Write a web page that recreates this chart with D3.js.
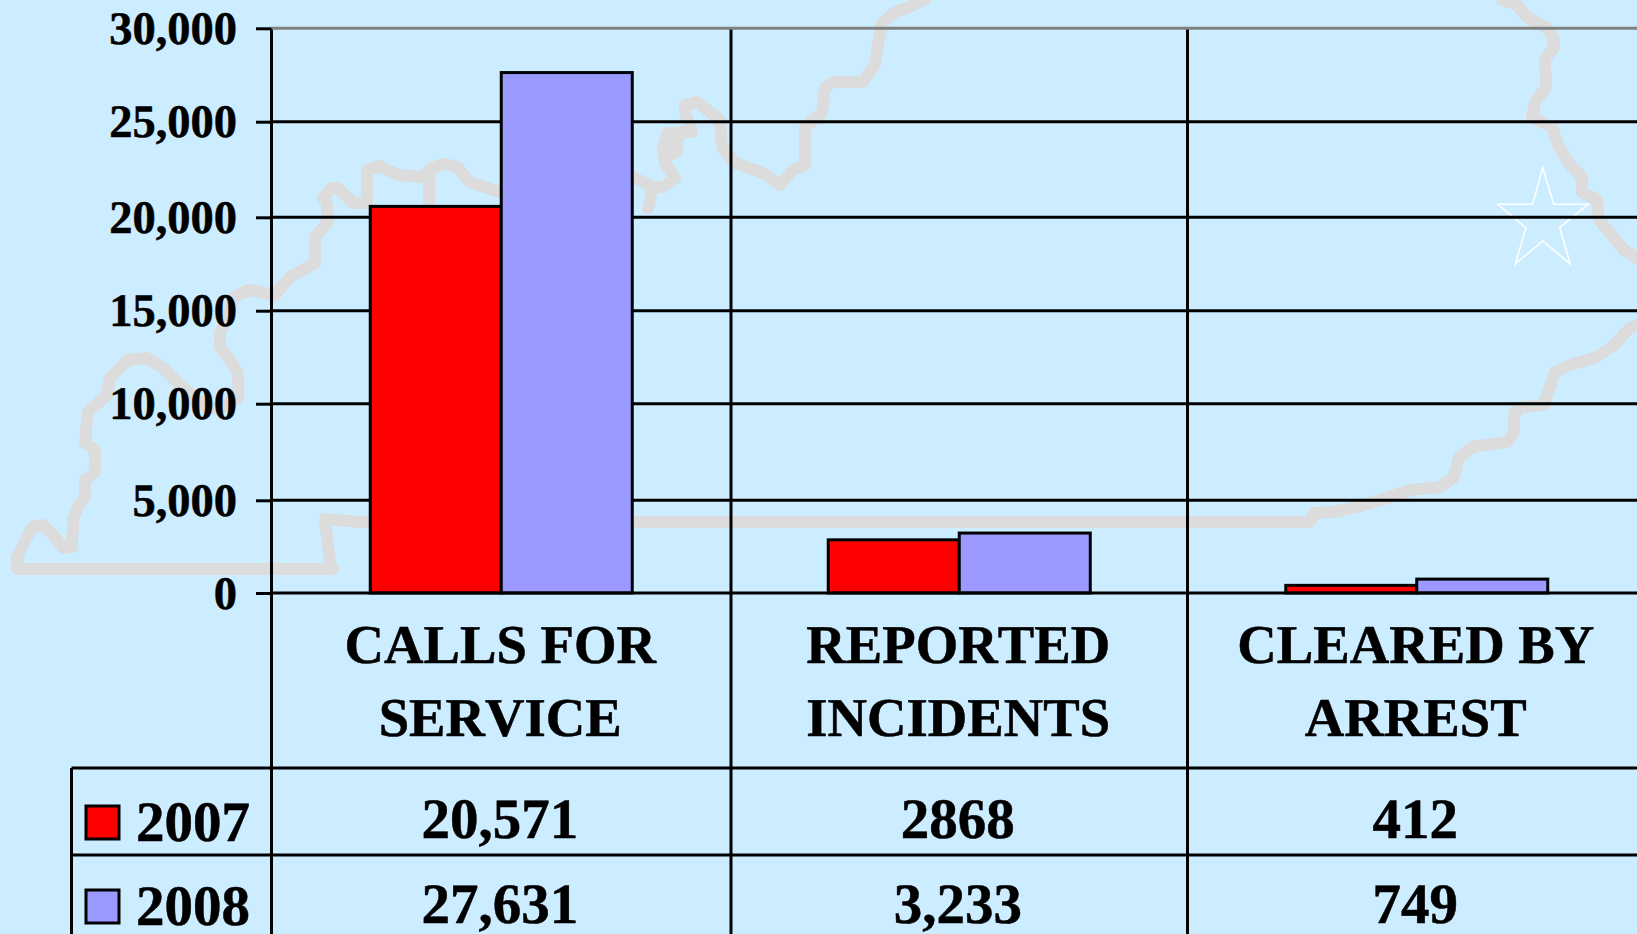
<!DOCTYPE html>
<html><head><meta charset="utf-8">
<script src="https://cdn.jsdelivr.net/npm/d3@7"></script>
<style>
html,body{margin:0;padding:0;background:#CCECFF;overflow:hidden}
svg{display:block}
text{font-family:"Liberation Serif",serif;font-weight:bold;fill:#000;stroke:#000;stroke-width:.5px;font-kerning:none;text-rendering:geometricPrecision}
</style></head><body>
<script>
const categories=["CALLS FOR SERVICE","REPORTED INCIDENTS","CLEARED BY ARREST"];
const categoryLines=[["CALLS FOR","SERVICE"],["REPORTED","INCIDENTS"],["CLEARED BY","ARREST"]];
const years=["2007","2008"];
const values2007=[20571,2868,412];
const values2008=[27631,3233,749];
const labels2007=["20,571","2868","412"];
const labels2008=["27,631","3,233","749"];
const yTicks=[0,5000,10000,15000,20000,25000,30000];
const seriesColors=["#FF0000","#9999FF"];
// decorative state outline behind the plot (pixel trace, not data)
const outlineSouth=[[360,522],[325,519],[330,563],[333,569],[17,569],[17,557],[27,537],[33,527],[43,525],[55,537],[63,548],[72,547],[73,520],[78,507],[85,497],[85,480],[95,472],[95,450],[85,443],[87,420],[88,412],[107,395],[110,378],[128,360],[147,358],[163,368],[177,382],[192,395],[207,408],[223,407],[238,397],[238,373],[230,360],[220,347],[220,333],[228,317],[233,298],[248,290],[260,292],[275,295],[290,277],[315,263],[315,237],[328,222],[327,203],[323,198],[332,188],[338,188],[353,203],[367,203],[367,170],[380,166],[397,175],[422,177],[432,168],[445,164],[457,167],[470,182],[502,193],[633,177],[643,182],[653,187],[648,208],[653,187],[663,187],[675,178],[665,163],[663,147],[668,133],[678,133],[677,152],[665,157],[668,133],[692,132],[685,113],[685,105],[697,102],[720,120],[722,147],[735,163],[763,173],[780,185],[793,170],[805,165],[805,127],[822,113],[825,88],[833,82],[863,82],[875,65],[878,43],[882,23],[895,12],[910,7],[923,0]];
const outlineStub=[[429,177],[429,207]];
const outlineBottom=[[360,522],[1310,522],[1314,513],[1334,512],[1357,507],[1387,498],[1410,490],[1440,487],[1454,477],[1459,458],[1472,447],[1507,442],[1514,432],[1514,413],[1522,407],[1544,405],[1550,387],[1555,372],[1570,365],[1597,357],[1614,345],[1630,328],[1637,325]];
const outlineEast=[[1504,0],[1517,5],[1527,17],[1547,28],[1554,40],[1554,48],[1545,58],[1546,87],[1535,102],[1532,117],[1552,127],[1559,147],[1570,165],[1582,177],[1582,192],[1597,200],[1599,220],[1610,233],[1624,250],[1637,258]];
const starPoints=[[1542.7,167.7],[1553.7,204.3],[1588,204.3],[1559.7,227.7],[1570.3,264],[1542.7,241],[1515.3,264],[1526,227.7],[1497.7,204.3],[1532.7,204.3]];

const W=1637,H=934;
const svg=d3.select("body").append("svg").attr("width",W).attr("height",H);
svg.append("rect").attr("width",W).attr("height",H).attr("fill","#CCECFF");

const line=d3.line();
[outlineSouth,outlineStub,outlineBottom,outlineEast].forEach(p=>{
  svg.append("path").attr("d",line(p)).attr("fill","none").attr("stroke","#DCDCDC")
     .attr("stroke-width",12).attr("stroke-linejoin","round").attr("stroke-linecap","square")
     .attr("shape-rendering","crispEdges");
});
svg.append("path").attr("d",line(starPoints)+"Z").attr("fill","none").attr("stroke","#fff").attr("stroke-width",1.6);

const y0=593, yTop=28.3, ink=3;
// the reference's rules are not evenly spaced; the scale follows them tick by tick
const y=d3.scaleLinear().domain(yTicks).range([y0,500.3,403.7,310.7,217.3,121.7,yTop]);
const xEdge=d3.scaleLinear().domain([0,1,2,3]).range([271.5,731,1187.5,1646]);
const center=i=>(xEdge(i)+xEdge(i+1))/2;
const barW=131;
const x1=d3.scaleBand().domain(years).range([-barW,barW]);
const plotLeft=xEdge(0);

// gridlines
svg.append("g").selectAll("line").data(yTicks.filter(t=>t>0&&t<30000)).join("line")
  .attr("x1",plotLeft).attr("x2",W).attr("y1",d=>y(d)).attr("y2",d=>y(d))
  .attr("stroke","#000").attr("stroke-width",ink);

// vertical lines + table
const tableRows=[768,855], tableLeft=71.5;
svg.append("g").selectAll("line").data([0,1,2]).join("line")
  .attr("x1",d=>xEdge(d)).attr("x2",d=>xEdge(d)).attr("y1",yTop).attr("y2",H).attr("stroke","#000").attr("stroke-width",ink);
svg.append("line").attr("x1",plotLeft).attr("x2",W).attr("y1",yTop).attr("y2",yTop).attr("stroke","#808080").attr("stroke-width",3);
svg.append("line").attr("x1",tableLeft).attr("x2",tableLeft).attr("y1",tableRows[0]).attr("y2",H).attr("stroke","#000").attr("stroke-width",ink);
svg.append("g").selectAll("line").data(tableRows).join("line")
  .attr("x1",tableLeft).attr("x2",W).attr("y1",d=>d).attr("y2",d=>d).attr("stroke","#000").attr("stroke-width",ink);

// bars
const series=[values2007,values2008];
years.forEach((yr,i)=>{
  svg.append("g").selectAll("rect").data(categories).join("rect")
    .attr("x",(c,j)=>center(j)+x1(yr)).attr("width",x1.bandwidth())
    .attr("y",(c,j)=>y(series[i][j])).attr("height",(c,j)=>y0-y(series[i][j]))
    .attr("fill",seriesColors[i]).attr("stroke","#000").attr("stroke-width",ink);
});

// y axis
const axis=svg.append("g").attr("transform",`translate(${plotLeft},0)`)
  .call(d3.axisLeft(y).tickValues(yTicks).tickFormat(d3.format(",")).tickSize(15.5).tickPadding(19));
axis.select(".domain").remove();
axis.selectAll("line").attr("stroke","#000").attr("stroke-width",ink);
axis.selectAll("text").attr("font-size",46.5).attr("dy",null).attr("y",15).attr("fill","#000")
  .style("font-family",'"Liberation Serif",serif').style("font-weight","bold");

// baseline
svg.append("line").attr("x1",plotLeft).attr("x2",W).attr("y1",y0).attr("y2",y0).attr("stroke","#000").attr("stroke-width",3);

// category labels
categories.forEach((c,i)=>{
  categoryLines[i].forEach((t,k)=>{
    svg.append("text").attr("x",center(i)-1).attr("y",663+k*72.5)
      .attr("text-anchor","middle").attr("font-size",54.7).text(t);
  });
});

// table values
const rowBase=[838,922.5], allLabels=[labels2007,labels2008];
allLabels.forEach((row,r)=>{
  row.forEach((t,i)=>{
    svg.append("text").attr("x",center(i)-1.5).attr("y",rowBase[r])
      .attr("text-anchor","middle").attr("font-size",57).text(t);
  });
});

// legend keys
const keyTop=[806,890], yearBase=[841,925];
years.forEach((yr,r)=>{
  svg.append("rect").attr("x",86).attr("y",keyTop[r]).attr("width",33).attr("height",33)
    .attr("fill",seriesColors[r]).attr("stroke","#000").attr("stroke-width",3);
  svg.append("text").attr("x",136).attr("y",yearBase[r]).attr("font-size",57).text(yr);
});
</script>
</body></html>
